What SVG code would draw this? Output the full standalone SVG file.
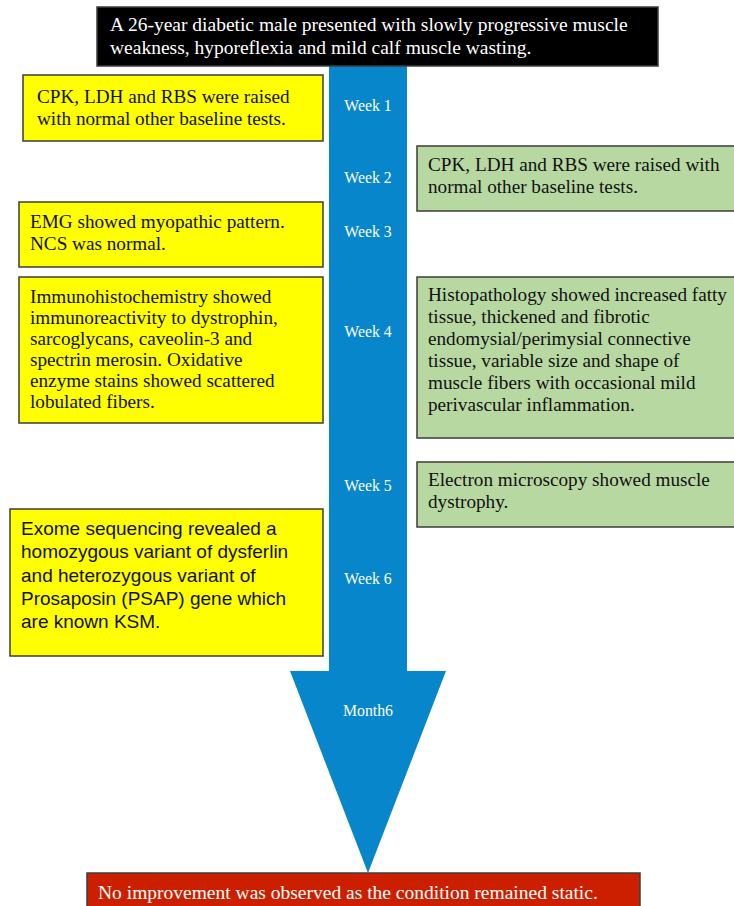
<svg xmlns="http://www.w3.org/2000/svg" width="734" height="906" viewBox="0 0 734 906">
<style>
.box{stroke:#3c3c3c;stroke-width:1.5}
.y{fill:#ffff00}
.g{fill:#b8d8a2}
.t{font-family:"Liberation Serif","Times New Roman",serif;font-size:19.2px;fill:#111}
.w{font-family:"Liberation Serif","Times New Roman",serif;font-size:19.5px;fill:#fff}
.s{font-family:"Liberation Sans",Arial,sans-serif;font-size:19px;fill:#111}
.wk{font-family:"Liberation Serif","Times New Roman",serif;font-size:15.8px;fill:#fff;text-anchor:middle}
</style>
<rect width="734" height="906" fill="#fff"/>
<g id="connectors">
<polygon id="timeline-arrow" points="329,66 407,66 407,671 446,671 368,873 290,671 329,671" fill="#0786cb"/>
</g>
<g id="week-labels">
<text class="wk" x="368" y="111">Week 1</text>
<text class="wk" x="368" y="183">Week 2</text>
<text class="wk" x="368" y="237">Week 3</text>
<text class="wk" x="368" y="337">Week 4</text>
<text class="wk" x="368" y="491">Week 5</text>
<text class="wk" x="368" y="584">Week 6</text>
<text class="wk" x="368" y="716">Month6</text>
</g>
<g id="node-start">
<rect class="box" x="97" y="7" width="561" height="59" fill="#000"/>
<text class="w" x="110" y="31">A 26-year diabetic male presented with slowly progressive muscle</text>
<text class="w" x="110" y="54">weakness, hyporeflexia and mild calf muscle wasting.</text>
</g>
<g id="node-baseline-left">
<rect class="box y" x="23" y="75" width="300" height="66"/>
<text class="t" x="37" y="103">CPK, LDH and RBS were raised</text>
<text class="t" x="37" y="125">with normal other baseline tests.</text>
</g>
<g id="node-baseline-right">
<rect class="box g" x="417" y="146" width="323" height="65"/>
<text class="t" x="428" y="171">CPK, LDH and RBS were raised with</text>
<text class="t" x="428" y="193">normal other baseline tests.</text>
</g>
<g id="node-emg">
<rect class="box y" x="19" y="202" width="304" height="65"/>
<text class="t" x="30" y="228">EMG showed myopathic pattern.</text>
<text class="t" x="30" y="250">NCS was normal.</text>
</g>
<g id="node-immuno">
<rect class="box y" x="19" y="277" width="304" height="146"/>
<text class="t" x="30" y="303">Immunohistochemistry showed</text>
<text class="t" x="30" y="324">immunoreactivity to dystrophin,</text>
<text class="t" x="30" y="345">sarcoglycans, caveolin-3 and</text>
<text class="t" x="30" y="366">spectrin merosin. Oxidative</text>
<text class="t" x="30" y="387">enzyme stains showed scattered</text>
<text class="t" x="30" y="408">lobulated fibers.</text>
</g>
<g id="node-histo">
<rect class="box g" x="417" y="277" width="323" height="161"/>
<text class="t" x="428" y="301">Histopathology showed increased fatty</text>
<text class="t" x="428" y="323">tissue, thickened and fibrotic</text>
<text class="t" x="428" y="345">endomysial/perimysial connective</text>
<text class="t" x="428" y="367">tissue, variable size and shape of</text>
<text class="t" x="428" y="389">muscle fibers with occasional mild</text>
<text class="t" x="428" y="411">perivascular inflammation.</text>
</g>
<g id="node-em">
<rect class="box g" x="417" y="462" width="323" height="65"/>
<text class="t" x="428" y="486">Electron microscopy showed muscle</text>
<text class="t" x="428" y="508">dystrophy.</text>
</g>
<g id="node-exome">
<rect class="box y" x="10" y="509" width="313" height="147"/>
<text class="s" x="21" y="535">Exome sequencing revealed a</text>
<text class="s" x="21" y="558">homozygous variant of dysferlin</text>
<text class="s" x="21" y="582">and heterozygous variant of</text>
<text class="s" x="21" y="605">Prosaposin (PSAP) gene which</text>
<text class="s" x="21" y="628">are known KSM.</text>
</g>
<g id="node-outcome">
<rect class="box" x="87" y="873" width="553" height="40" fill="#cc1f00"/>
<text class="w" x="98" y="899">No improvement was observed as the condition remained static.</text>
</g>
</svg>
